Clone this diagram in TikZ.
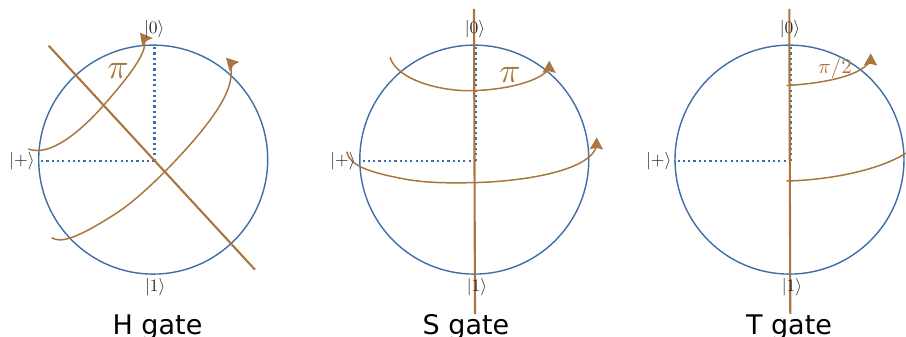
\documentclass[tikz,border=0pt]{standalone}
\usepackage{fontspec}
\setsansfont{DejaVu Sans}
\usetikzlibrary{arrows.meta}
\definecolor{sph}{HTML}{3F6DA6}
\definecolor{brn}{HTML}{A8763E}
\definecolor{ket}{HTML}{2A2A2A}
\tikzset{
  sphere/.style={circle,draw=sph,line width=1.4pt,minimum size=229pt,inner sep=0pt},
  guide/.style={draw=sph,line width=2.2pt,dash pattern=on 2.2pt off 3.1pt},
  axisline/.style={draw=brn,line width=2.1pt},
  arc/.style={draw=brn,line width=1.5pt},
  arcar/.style={arc,-{Stealth[length=12pt,width=13pt,inset=1.5pt]}},
  ketlabel/.style={text=ket,scale=1.75,inner sep=0pt},
  gatelabel/.style={font=\sffamily\fontsize{27}{30}\selectfont,anchor=base,inner sep=0pt},
  bigpi/.style={text=brn,scale=3.5,inner sep=0pt},
  smallpi/.style={text=brn,scale=2.1,inner sep=0pt},
}
\begin{document}
\begin{tikzpicture}[x=1pt,y=-1pt]
\useasboundingbox (0,0) rectangle (906,337);
% ---- H gate
\node[sphere] (hs) at (153.2,159.6) {};
\coordinate (hc) at (154.5,160.7);
\draw[guide] (hc) -- (hc |- hs.north);
\draw[guide] (hc) -- (hs.west |- hc);
\coordinate (ha1) at (48.7,45.7);
\coordinate (ha2) at (255,269.7);
\draw[axisline] (ha1) -- (ha2);
\coordinate (hp1) at (28.3,149);
\coordinate (hq1) at (140,32.7);
\draw[arcar] (hp1) .. controls (50,157) and (80,132) .. (103,106)
  .. controls (125,81) and (146,55) .. (144.5,43)
  .. controls (144.2,40) and (145,39) .. (hq1);
\coordinate (hp2) at (51.7,237.7);
\coordinate (hq2) at (226,57.7);
\draw[arcar] (hp2) .. controls (60,243) and (75,240) .. (116.7,213)
  .. controls (140,198) and (175,163) .. (200,133)
  .. controls (217,112) and (232,90) .. (231,72)
  .. controls (231,68) and (232,64) .. (hq2);
\node[ketlabel] (h0) at (154.3,29.3) {$|0\rangle$};
\node[ketlabel] (h1) at (155.3,287) {$|1\rangle$};
\node[ketlabel] (hp) at (22,161.5) {$|{+}\rangle$};
\node[bigpi] (hpi) at (118,71) {$\pi$};
\node[gatelabel] (hg) at (157.5,334.3) {H gate};
% ---- S gate
\node[sphere] (ss) at (474.3,159.6) {};
\coordinate (sc) at (476,160.7);
\draw[guide] (sc) -- (sc |- ss.north);
\draw[guide] (sc) -- (ss.west |- sc);
\coordinate (sa1) at (474,9);
\coordinate (sa2) at (475,314);
\draw[axisline] (sa1) -- (sa2);
\coordinate (sp1) at (390,57.3);
\coordinate (sq1) at (549.3,60.7);
\draw[arcar] (sp1) .. controls (397,80) and (440,91) .. (470,90.7)
  .. controls (510,90) and (540,80) .. (548,70)
  .. controls (549,68) and (549.2,67) .. (sq1);
\coordinate (sp2) at (346.7,151.7);
\coordinate (sq2) at (596.7,137.3);
\draw[arcar] (sp2) .. controls (350,165) and (365,172) .. (410,180)
  .. controls (430,183) and (450,183) .. (470,182.7)
  .. controls (520,182) and (583,172) .. (595,150)
  .. controls (596,148) and (596.5,146) .. (sq2);
\node[ketlabel] (s0) at (475,29.3) {$|0\rangle$};
\node[ketlabel] (s1) at (477,287) {$|1\rangle$};
\node[ketlabel] (sp) at (343,161.5) {$|{+}\rangle$};
\node[bigpi] (spi) at (510,75) {$\pi$};
\node[gatelabel] (sg) at (466,334.3) {S gate};
% ---- T gate
\node[sphere] (ts) at (789.5,159.6) {};
\coordinate (tc) at (791,160.7);
\draw[guide] (tc) -- (tc |- ts.north);
\draw[guide] (tc) -- (ts.west |- tc);
\coordinate (ta1) at (789.3,9);
\coordinate (ta2) at (790.3,314);
\draw[axisline] (ta1) -- (ta2);
\coordinate (tp1) at (786.7,85.5);
\coordinate (tq1) at (870.7,53.3);
\draw[arcar] (tp1) .. controls (815,84) and (858,78) .. (869.5,62)
  .. controls (870.2,60.5) and (870.6,60) .. (tq1);
\coordinate (tp2) at (786.7,181);
\coordinate (tq2) at (906,153);
\draw[arc] (tp2) .. controls (830,180) and (880,170) .. (tq2);
\node[ketlabel] (t0) at (790,29.3) {$|0\rangle$};
\node[ketlabel] (t1) at (792,287) {$|1\rangle$};
\node[ketlabel] (tpl) at (658.7,161.5) {$|{+}\rangle$};
\node[smallpi] (tpi) at (835,68) {$\pi/2$};
\node[gatelabel] (tg) at (789,334.3) {T gate};
\end{tikzpicture}
\end{document}
